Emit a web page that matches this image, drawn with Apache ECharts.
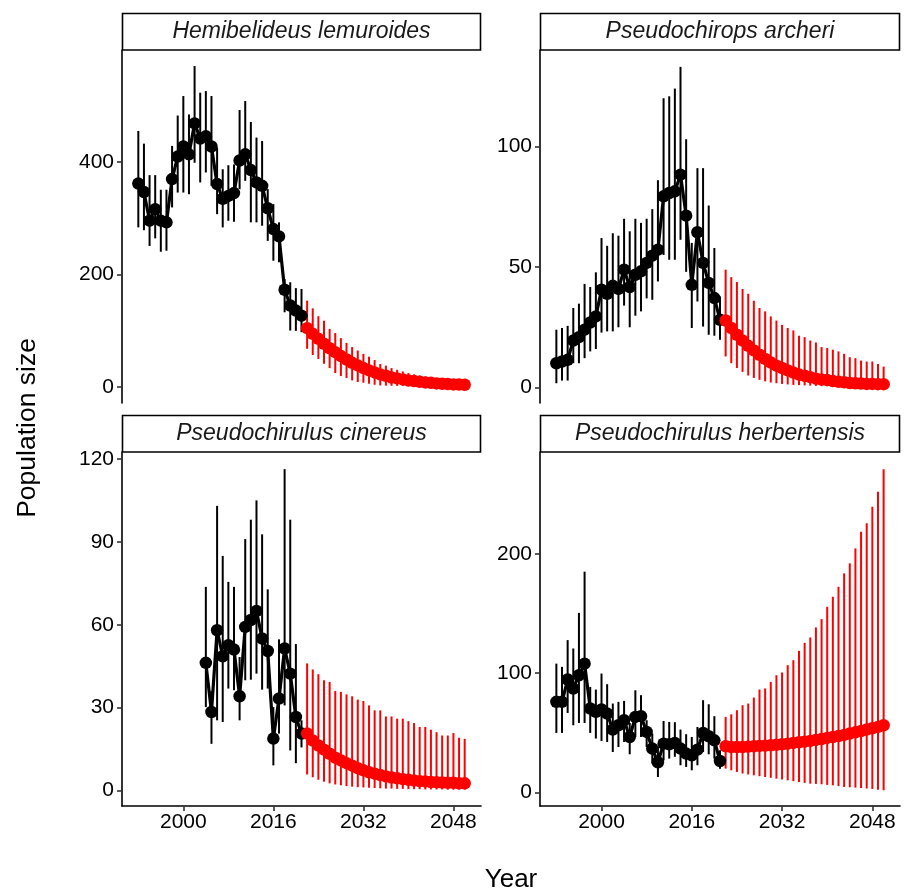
<!DOCTYPE html>
<html><head><meta charset="utf-8">
<script src="https://cdn.jsdelivr.net/npm/echarts@6/dist/echarts.min.js"></script>
<style>html,body{margin:0;padding:0;background:#fff}#chart{width:904px;height:894px}</style>
</head><body><div id="chart"></div>
<script>
// ---------------- data ----------------
const speciesNames = ['Hemibelideus lemuroides', 'Pseudochirops archeri', 'Pseudochirulus cinereus', 'Pseudochirulus herbertensis'];
const xTicks = [2000, 2016, 2032, 2048];

const obsYears = [1992,1993,1994,1995,1996,1997,1998,1999,2000,2001,2002,2003,2004,2005,2006,2007,2008,2009,2010,2011,2012,2013,2014,2015,2016,2017,2018,2019,2020,2021];
const cinYears = [2004,2005,2006,2007,2008,2009,2010,2011,2012,2013,2014,2015,2016,2017,2018,2019,2020,2021];
const projYears = [2022,2023,2024,2025,2026,2027,2028,2029,2030,2031,2032,2033,2034,2035,2036,2037,2038,2039,2040,2041,2042,2043,2044,2045,2046,2047,2048,2049,2050];

// Hemibelideus lemuroides
const hlObsMean = [362,347,296,316.5,296,293,370,410,428,414,469,442,446,428,361,335,340,345,403,414,386,364,358,318,281,268,173,145,136,127];
const hlObsLo   = [284,279,251,264.5,240.7,242.5,319.5,346,346,343,399,364,381.7,358,307.6,284,295.8,294,352,366.8,293,293,287,260,224.7,222,133,100.5,100,97.6];
const hlObsHi   = [455.5,433,377,377,351,351,429,483,517.7,485,571,523.7,526.5,517.7,426,387.5,394.6,396,492.8,508.8,471.5,443.8,437.8,352,325.4,293,192,186.4,176,174.5];
const hlProjMean = [104.7,94.6,85.7,77,69,62,55,49,43,38.4,33.7,29.5,26,22.4,20,17,15.3,13.5,11.7,10.6,9.4,8.2,7.6,6.4,5.9,5.3,4.6,4.4,4.1];
const hlProjLo   = [68,57,50,41.4,33.7,25,19.5,16,11.8,8.9,7.6,5.9,4,2.8,2.5,2.2,2,1.8,1.6,1.4,1.3,1.2,1.1,1,0.9,0.8,0.8,0.7,0.7];
const hlProjHi   = [153.7,140,126,118,103.5,96,87,78.6,71,65,59,54,48,41,38,33.7,30.7,27.7,24.9,22.4,20.6,18.8,17.7,16,14.7,13.5,11.7,10.6,10];

// Pseudochirops archeri
const paObsMean = [10.1,10.8,11.5,19.5,20.9,24,27,29.5,40.6,38.9,42.2,40.9,48.9,41.7,46.8,48.2,51.7,54.7,57.2,79.3,80.7,81.4,88.3,71.3,42.6,64.4,51.7,43.4,37.1,28.1];
const paObsLo   = [1.8,2.9,2.9,10.1,10.1,12.2,15,16,22.8,23.3,23.3,25,34,25,29.8,31.6,37,36.4,44,55,53,53,61.3,48,24.7,35.7,25.3,21.9,21.5,19.8];
const paObsHi   = [24,24.7,25.6,33,34.8,43,41.7,47.8,62,58.8,64,63,70,64.8,70,68.3,70,74,86,120,120.8,124,133,103,60,91,91,75.5,57.9,37.8];
const paProjMean = [27.8,24.7,21.9,19.5,17.3,15.4,13.6,11.9,10.4,9.1,8.1,7.1,6.2,5.4,4.9,4.3,3.7,3.3,3.1,2.7,2.4,2.2,1.9,1.8,1.7,1.5,1.5,1.4,1.4];
const paProjLo   = [12.9,10.1,8.1,6.5,5,4,3.2,2.6,2.1,1.8,1.5,1.3,1.1,1,0.9,0.8,0.7,0.6,0.6,0.5,0.5,0.4,0.4,0.4,0.3,0.3,0.3,0.3,0.2];
const paProjHi   = [48.9,45.8,43.8,40.9,38.9,36,33,31.6,29.5,27.8,26,24.7,23.7,21.5,20.9,19.5,18.7,16.8,16.4,15.7,15,14,12.6,12.2,11.2,10.8,10.8,9.8,8.7];

// Pseudochirulus cinereus
const pcObsMean = [46.2,28.4,58,48.6,52.6,51,34.1,59.2,61.7,65,55,50.5,18.8,33.3,51.4,42.3,26.6,20.6];
const pcObsLo   = [30.2,16.9,25.4,24.8,36.9,36.3,25.4,39.9,40.1,42.3,36.5,36.9,9.1,20.6,30.8,14.5,9.9,15.6];
const pcObsHi   = [73.7,36,103,84.9,75.5,73.7,48.3,91,98,105,92.7,72.8,30.2,54.7,116.3,98,53,25.4];
const pcProjMean = [20.6,18.1,16.3,14.8,13.3,11.9,10.9,9.9,9,8.1,7.3,6.6,6.1,5.6,5.1,4.7,4.4,4.1,3.9,3.6,3.4,3.3,3.1,3,2.9,2.8,2.8,2.6,2.6];
const pcProjLo   = [5.8,4.8,3.9,3.2,2.6,2.2,1.9,1.6,1.4,1.2,1.1,1,0.9,0.8,0.7,0.7,0.6,0.6,0.5,0.5,0.5,0.4,0.4,0.4,0.4,0.3,0.3,0.3,0.3];
const pcProjHi   = [46,43.8,42.1,39.9,39.3,36,35.7,34.8,34.1,32.9,32.4,30.8,29,29,26.8,26.8,26,26,25.1,24.4,23,23,22,21.1,19.9,19.9,20.8,19.1,18.7];

// Pseudochirulus herbertensis
const phObsMean = [76,76,94.7,87.2,98.3,108,70.4,67.6,69.6,66.2,52.8,56.4,60.6,46.6,63.4,64,50.8,36.9,25.4,41,40.5,41.6,36.9,32.7,31.3,36,50,47.2,43.8,26.5];
const phObsLo   = [50,50,66.7,56.4,58.3,58.3,50,45.3,43.3,42.4,34,38.2,42.4,32.1,46.6,46.6,38.2,24.3,13.1,27,28.5,30,22.9,21.5,18.7,22.9,34,32.1,28.5,20];
const phObsHi   = [108,105.3,127.7,120.7,150.5,185,88.5,86.3,99.7,90.8,74.6,76,76.8,58.3,85.7,81.6,60.6,49.5,38.2,60,59.2,59,52.8,48.9,46.6,55,77.4,74,64,35.5];
const phProjMean = [38.8,38.2,38.2,38.2,38.5,38.8,39.1,39.3,39.7,40,40.5,41,41.6,42.2,42.7,43.3,44.1,44.9,45.8,46.6,47.4,48.3,49.5,50.5,51.6,52.8,53.9,55,56.4];
const phProjLo   = [20.1,18.7,17.3,16,15.2,14.5,13.8,13.1,12.4,11.7,11,10.3,9.6,8.9,8.2,7.5,7.3,7,6.5,6.1,5.4,4.7,4.5,4.2,3.8,3.4,3,2.5,1.9];
const phProjHi   = [63.4,65.6,69,73.2,74.6,79.6,86.3,87.2,92.7,98.3,100.6,106.7,110.9,118.7,125.4,129.9,138.3,145.3,155.6,164,172.3,183.6,192,204.5,218.4,225.5,239.4,252,270.7];

const yTicks = [[0,200,400],[0,50,100],[0,30,60,90,120],[0,100,200]];

// ---------------- layout ----------------
const panelData = [
  {years: obsYears, mean: hlObsMean, lo: hlObsLo, hi: hlObsHi, pm: hlProjMean, pl: hlProjLo, ph: hlProjHi},
  {years: obsYears, mean: paObsMean, lo: paObsLo, hi: paObsHi, pm: paProjMean, pl: paProjLo, ph: paProjHi},
  {years: cinYears, mean: pcObsMean, lo: pcObsLo, hi: pcObsHi, pm: pcProjMean, pl: pcProjLo, ph: pcProjHi},
  {years: obsYears, mean: phObsMean, lo: phObsLo, hi: phObsHi, pm: phProjMean, pl: phProjLo, ph: phProjHi}
];
const boxes = [
  {left:122, top:50, width:359, height:353, ymin:-28.4, ymax:599.6},
  {left:540, top:50, width:360, height:353, ymin:-6.4, ymax:140},
  {left:122, top:452, width:359, height:354, ymin:-5.6, ymax:122.5},
  {left:540, top:452, width:360, height:354, ymin:-11.2, ymax:285.2}
];
const XMIN = 1989.1, XMAX = 2052.9;
const FONT = 'Liberation Sans, Arial, sans-serif';

const grids = [], xAxes = [], yAxes = [], series = [], graphics = [];

function errBar(color, width) {
  return function (params, api) {
    const x = api.value(0);
    const p1 = api.coord([x, api.value(1)]);
    const p2 = api.coord([x, api.value(2)]);
    return {type: 'line', shape: {x1: p1[0], y1: p1[1], x2: p2[0], y2: p2[1]},
            style: {stroke: color, lineWidth: width}};
  };
}
const plain = v => String(v);

boxes.forEach((b, i) => {
  const d = panelData[i];
  const bottomRow = i >= 2;
  grids.push({left: b.left, top: b.top, width: b.width, height: b.height, containLabel: false});
  xAxes.push({
    type: 'value', gridIndex: i, min: XMIN, max: XMAX, show: bottomRow,
    axisLine: {show: true, onZero: false, lineStyle: {color: '#000', width: 1.6}},
    axisTick: {show: true, length: 5, customValues: xTicks, lineStyle: {color: '#333', width: 1.6}},
    axisLabel: {show: true, customValues: xTicks, formatter: plain, color: '#000', fontSize: 21, fontFamily: FONT, margin: 6},
    splitLine: {show: false}
  });
  yAxes.push({
    type: 'value', gridIndex: i, min: b.ymin, max: b.ymax,
    axisLine: {show: true, onZero: false, lineStyle: {color: '#000', width: 1.6}},
    axisTick: {show: true, length: 5, customValues: yTicks[i], lineStyle: {color: '#333', width: 1.6}},
    axisLabel: {show: true, customValues: yTicks[i], formatter: plain, color: '#000', fontSize: 21, fontFamily: FONT, margin: 8},
    splitLine: {show: false}
  });
  series.push({
    type: 'custom', xAxisIndex: i, yAxisIndex: i, z: 1, silent: true,
    renderItem: errBar('#000', 2),
    encode: {x: 0, y: [1, 2]},
    data: d.years.map((y, k) => [y, d.lo[k], d.hi[k]])
  });
  series.push({
    type: 'custom', xAxisIndex: i, yAxisIndex: i, z: 1, silent: true,
    renderItem: errBar('#ff0000', 2),
    encode: {x: 0, y: [1, 2]},
    data: projYears.map((y, k) => [y, d.pl[k], d.ph[k]])
  });
  series.push({
    type: 'line', xAxisIndex: i, yAxisIndex: i, z: 3, silent: true,
    symbol: 'circle', symbolSize: 12.5, showSymbol: true,
    itemStyle: {color: '#000'}, lineStyle: {color: '#000', width: 3.2},
    data: d.years.map((y, k) => [y, d.mean[k]])
  });
  series.push({
    type: 'line', xAxisIndex: i, yAxisIndex: i, z: 3, silent: true,
    symbol: 'circle', symbolSize: 12.5, showSymbol: true,
    itemStyle: {color: '#ff0000'}, lineStyle: {color: '#ff0000', width: 3.2},
    data: projYears.map((y, k) => [y, d.pm[k]])
  });
  // strip
  const sTop = b.top - 36.5;
  graphics.push({
    type: 'rect', shape: {x: b.left + 0.5, y: sTop, width: b.width - 1, height: 36.5},
    style: {fill: '#fff', stroke: '#000', lineWidth: 1.6}, z: 10
  });
  graphics.push({
    type: 'text', x: b.left + b.width / 2, y: sTop + 18.5, z: 11,
    style: {text: speciesNames[i], fontSize: 23, fontStyle: 'italic', fontFamily: FONT,
            fill: '#1a1a1a', align: 'center', verticalAlign: 'middle'}
  });
});

graphics.push({
  type: 'text', x: 511, y: 880, z: 11,
  style: {text: 'Year', fontSize: 26, fontFamily: FONT, fill: '#000', align: 'center', verticalAlign: 'middle'}
});
graphics.push({
  type: 'text', x: 28, y: 428, rotation: Math.PI / 2, z: 11,
  style: {text: 'Population size', fontSize: 26.5, fontFamily: FONT, fill: '#000', align: 'center', verticalAlign: 'middle'}
});

const chart = echarts.init(document.getElementById('chart'), null, {renderer: 'canvas'});
chart.setOption({
  backgroundColor: '#fff',
  animation: false,
  textStyle: {fontFamily: FONT},
  grid: grids, xAxis: xAxes, yAxis: yAxes, series: series, graphic: graphics
});
</script></body></html>
